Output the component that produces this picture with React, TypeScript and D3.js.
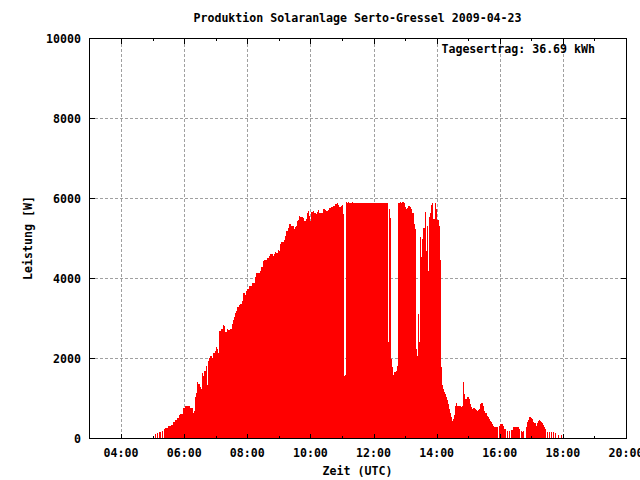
import React from "react";
import * as d3 from "d3";

const TITLE = "Produktion Solaranlage Serto-Gressel 2009-04-23";
const X_LABEL = "Zeit (UTC)";
const Y_LABEL = "Leistung [W]";
const NOTE = "Tagesertrag: 36.69 kWh";

const X_TICK_LABELS = ["04:00", "06:00", "08:00", "10:00", "12:00", "14:00", "16:00", "18:00", "20:00"];
const X_MINOR_TICKS = ["04:00", "05:00", "06:00", "07:00", "08:00", "09:00", "10:00", "11:00", "12:00", "13:00", "14:00", "15:00", "16:00", "17:00", "18:00", "19:00", "20:00"];
const Y_TICKS = [0, 2000, 4000, 6000, 8000, 10000];

const TIMES = [
  "05:00","05:02","05:05","05:07","05:09","05:11","05:13","05:15","05:17","05:19","05:21","05:23",
  "05:24","05:30","05:34","05:38","05:43","05:47","05:51","05:53","05:57","06:02","06:12","06:16",
  "06:18","06:20","06:22","06:25","06:27","06:30","06:32","06:33","06:35","06:37","06:38","06:41",
  "06:43","06:45","06:47","06:48","06:50","06:53","06:55","06:58","07:00","07:02","07:04","07:05",
  "07:07","07:10","07:13","07:15","07:18","07:22","07:24","07:28","07:30","07:32","07:34","07:37",
  "07:39","07:41","07:44","07:47","07:49","07:51","07:55","07:57","08:00","08:04","08:08","08:14",
  "08:15","08:17","08:19","08:25","08:27","08:29","08:30","08:32","08:38","08:42","08:44","08:48",
  "08:50","08:52","08:55","08:58","09:01","09:03","09:05","09:09","09:11","09:13","09:17","09:19",
  "09:20","09:24","09:28","09:30","09:32","09:34","09:36","09:38","09:41","09:43","09:45","09:47",
  "09:51","09:53","09:55","09:57","10:00","10:02","10:05","10:07","10:10","10:12","10:14","10:17",
  "10:21","10:24","10:28","10:30","10:33","10:36","10:39","10:43","10:47","10:50","10:52","10:55",
  "10:58","11:00","11:02","11:04","11:06","11:08","11:10","11:12","11:13","11:19","11:21","12:28",
  "12:30","12:32","12:34","12:36","12:37","12:39","12:41","12:43","12:45","12:47","12:51","12:53",
  "12:55","12:57","12:59","13:00","13:02","13:04","13:06","13:08","13:10","13:12","13:14","13:16",
  "13:18","13:20","13:22","13:24","13:25","13:27","13:29","13:31","13:33","13:35","13:37","13:39",
  "13:41","13:43","13:44","13:46","13:48","13:50","13:52","13:54","13:56","13:58","14:00","14:01",
  "14:05","14:07","14:09","14:10","14:12","14:14","14:16","14:18","14:20","14:22","14:24","14:26",
  "14:27","14:29","14:31","14:33","14:35","14:37","14:39","14:46","14:48","14:50","14:52","14:54",
  "14:58","15:01","15:03","15:05","15:07","15:09","15:13","15:15","15:17","15:18","15:20","15:22",
  "15:24","15:28","15:30","15:32","15:36","15:37","15:39","15:41","15:43","15:45","15:47","15:49",
  "15:56","15:58","16:00","16:07","16:09","16:11","16:14","16:16","16:18","16:20","16:22","16:25",
  "16:37","16:39","16:40","16:42","16:43","16:45","16:47","16:49","16:51","16:53","16:55","16:57",
  "16:59","17:02","17:04","17:06","17:08","17:10","17:12","17:14","17:16","17:18","17:20","17:22",
  "17:24","17:26","17:28","17:29","17:31","17:33","17:35","17:37","17:39","17:41","17:43","17:45",
  "17:47","17:50","17:52","17:56","17:58"
];

const WATTS = [
  75,0,125,0,150,0,175,0,200,0,250,0,
  275,318,343,425,475,525,583,625,775,825,775,650,
  700,1033,1150,1425,1375,1283,1250,1633,1575,1100,1700,1825,
  1350,1950,1875,2025,2075,2025,2133,2200,2283,2250,2500,2133,
  2700,2750,2850,2825,2658,2750,2725,2750,2875,2975,3033,3133,
  3200,3283,3350,3375,3450,3650,3600,3700,3743,3825,3883,3993,
  4033,4133,4150,4200,4283,4350,4433,4475,4518,4575,4618,4575,
  4618,4675,4650,4725,4700,4868,4908,4968,5075,5200,5258,5300,
  5368,5325,5243,5283,5325,5433,5468,5575,5533,5550,5518,5450,
  5493,5650,5683,5575,5433,5658,5683,5633,5618,5658,5718,5650,
  5650,5743,5718,5683,5718,5768,5800,5818,5860,5883,5833,5783,
  5825,5850,5618,1558,1600,5925,5900,5925,5900,5925,5900,2408,
  5750,5518,1993,1783,1593,1658,1675,1700,1825,5900,5925,5900,
  5925,5900,5850,5800,5733,5768,5825,5810,5800,5743,5650,5368,
  5243,2250,2075,3743,3118,2408,5033,4550,4993,5268,5675,4700,
  5325,5050,4183,5533,5633,5850,5900,5500,5900,5743,5700,5468,
  5325,4468,1800,1350,1243,1175,1118,1033,968,868,743,633,
  533,450,483,600,825,883,825,800,825,1408,1118,993,
  1050,993,868,783,743,768,743,718,683,718,743,868,
  900,825,700,633,575,533,483,450,408,368,325,283,
  0,325,375,325,250,0,183,0,183,0,218,300,
  243,0,200,0,168,200,0,283,408,468,533,550,
  508,488,425,383,325,400,450,468,450,425,383,343,
  300,243,0,175,0,158,0,175,0,158,0,133,
  0,100,0,100,0
];

const FONT = "'DejaVu Sans Mono', 'Liberation Mono', monospace";

function toMin(s: string): number {
  const [h, m] = s.split(":").map(Number);
  return h * 60 + m;
}

export default function App() {
  const W = 640, H = 480;
  const x = d3.scaleLinear().domain([180, 1200]).range([89.5, 626]);
  const y = d3.scaleLinear().domain([0, 10000]).range([438.5, 38.5]);

  const data = TIMES.map((t, i) => ({ t: toMin(t), v: WATTS[i] }));
  const area = d3
    .area<{ t: number; v: number }>()
    .curve(d3.curveStepAfter)
    .x((d) => x(d.t))
    .y0(y(0))
    .y1((d) => y(d.v));

  const left = x.range()[0];
  const right = x.range()[1];
  const top = y.range()[1];
  const bottom = y.range()[0];
  const grid = "#a0a0a0";

  return (
    <svg width={W} height={H} style={{ position: "absolute", left: 0, top: 0, background: "#fff" }} shapeRendering="crispEdges">
      <rect x={0} y={0} width={W} height={H} fill="#fff" />
      {/* grid */}
      {X_TICK_LABELS.slice(0, -1).map((l) => (
        <line key={"gx" + l} x1={Math.round(x(toMin(l))) + 0.5} x2={Math.round(x(toMin(l))) + 0.5} y1={top} y2={bottom} stroke={grid} strokeDasharray="3,2" />
      ))}
      {Y_TICKS.slice(1, -1).map((v) => (
        <line key={"gy" + v} x1={left} x2={right} y1={y(v)} y2={y(v)} stroke={grid} strokeDasharray="3,2" />
      ))}
      {/* data */}
      <path d={area(data) || ""} fill="#ff0000" stroke="none" />
      {/* border */}
      <rect x={left} y={top} width={right - left} height={bottom - top} fill="none" stroke="#000" />
      {/* x ticks */}
      {X_MINOR_TICKS.map((l) => {
        const xx = Math.round(x(toMin(l))) + 0.5;
        const major = X_TICK_LABELS.includes(l);
        const len = major ? 5 : 2.5;
        return (
          <g key={"tx" + l}>
            <line x1={xx} x2={xx} y1={bottom} y2={bottom - len} stroke="#000" />
            <line x1={xx} x2={xx} y1={top} y2={top + len} stroke="#000" />
          </g>
        );
      })}
      {/* y ticks */}
      {Y_TICKS.map((v) => (
        <g key={"ty" + v}>
          <line x1={left} x2={left + 5} y1={y(v)} y2={y(v)} stroke="#000" />
          <line x1={right} x2={right - 5} y1={y(v)} y2={y(v)} stroke="#000" />
        </g>
      ))}
      <g fontFamily={FONT} fontWeight="bold" fontSize={11.6} fill="#000">
        {X_TICK_LABELS.map((l) => (
          <text key={"lx" + l} x={x(toMin(l))} y={457} textAnchor="middle">{l}</text>
        ))}
        {Y_TICKS.map((v) => (
          <text key={"ly" + v} x={81} y={y(v) + 4} textAnchor="end">{v}</text>
        ))}
        <text x={357.5} y={22} textAnchor="middle">{TITLE}</text>
        <text x={357.5} y={475} textAnchor="middle">{X_LABEL}</text>
        <text transform="translate(32,238) rotate(-90)" textAnchor="middle">{Y_LABEL}</text>
        <text x={595} y={53} textAnchor="end">{NOTE}</text>
      </g>
    </svg>
  );
}
